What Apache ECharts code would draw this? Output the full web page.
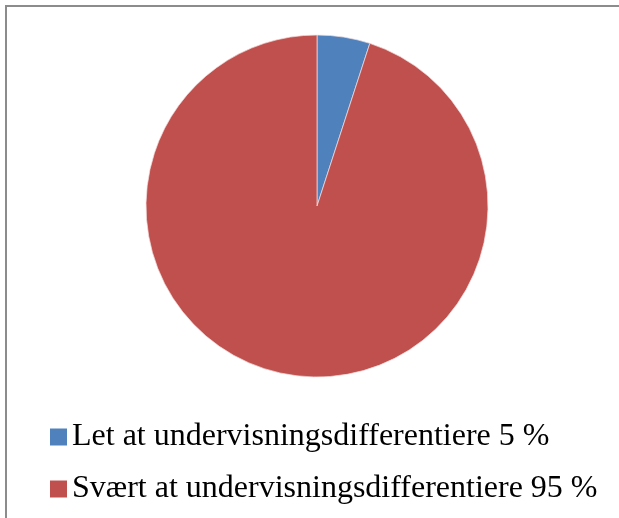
<!DOCTYPE html>
<html>
<head>
<meta charset="utf-8">
<script src="https://cdn.jsdelivr.net/npm/echarts@6/dist/echarts.min.js"></script>
<style>
  html, body { margin: 0; padding: 0; background: #fff; }
  #chart { width: 619px; height: 518px; }
</style>
</head>
<body>
<div id="chart"></div>
<script>
// Answers: how easy is it to differentiate teaching (percent)
const categories = ['Let at undervisningsdifferentiere', 'Svært at undervisningsdifferentiere'];
const shares = [5, 95];
const colors = ['#4F81BD', '#C0504D'];

const data = categories.map((name, i) => ({ name, value: shares[i] }));
const valueOf = Object.fromEntries(categories.map((c, i) => [c, shares[i]]));

const chart = echarts.init(document.getElementById('chart'), null, { renderer: 'canvas' });
chart.setOption({
  animation: false,
  backgroundColor: '#fff',
  color: colors,
  graphic: [{
    type: 'rect',
    shape: { x: 6, y: 6, width: 700, height: 700 },
    style: { fill: 'none', stroke: '#8c8c8c', lineWidth: 2 },
    silent: true
  }],
  legend: {
    orient: 'vertical',
    left: 45,
    top: 416,
    icon: 'rect',
    itemWidth: 17,
    itemHeight: 17,
    itemGap: 20,
    itemStyle: { borderWidth: 0 },
    formatter: name => name + ' ' + valueOf[name] + ' %',
    textStyle: { fontFamily: 'Liberation Serif', fontSize: 32, color: '#000' }
  },
  series: [{
    type: 'pie',
    center: [317, 206],
    radius: 171,
    startAngle: 90,
    clockwise: true,
    label: { show: false },
    labelLine: { show: false },
    emphasis: { disabled: true },
    itemStyle: { borderColor: '#f3e0df', borderWidth: 0.7 },
    data
  }]
});
</script>
</body>
</html>
